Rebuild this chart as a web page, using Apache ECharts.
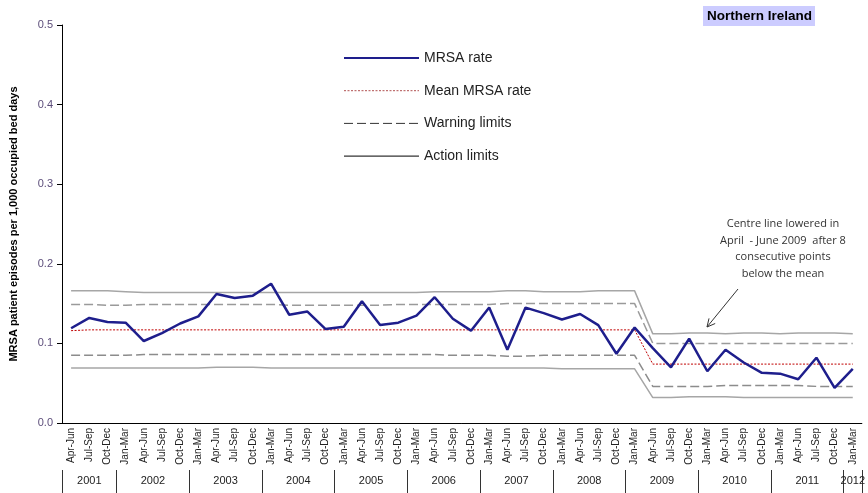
<!doctype html>
<html>
<head>
<meta charset="UTF-8">
<script src="https://cdn.jsdelivr.net/npm/echarts@6/dist/echarts.min.js"></script>
<style>
  html, body { margin: 0; padding: 0; background: #fff; }
  #chart { width: 868px; height: 493px; }
</style>
</head>
<body>
<div id="chart"></div>
<script>
// quarter labels, Apr-Jun 2001 .. Jan-Mar 2012
var quarterLabels = [
  'Apr-Jun','Jul-Sep','Oct-Dec',
  'Jan-Mar','Apr-Jun','Jul-Sep','Oct-Dec',
  'Jan-Mar','Apr-Jun','Jul-Sep','Oct-Dec',
  'Jan-Mar','Apr-Jun','Jul-Sep','Oct-Dec',
  'Jan-Mar','Apr-Jun','Jul-Sep','Oct-Dec',
  'Jan-Mar','Apr-Jun','Jul-Sep','Oct-Dec',
  'Jan-Mar','Apr-Jun','Jul-Sep','Oct-Dec',
  'Jan-Mar','Apr-Jun','Jul-Sep','Oct-Dec',
  'Jan-Mar','Apr-Jun','Jul-Sep','Oct-Dec',
  'Jan-Mar','Apr-Jun','Jul-Sep','Oct-Dec',
  'Jan-Mar','Apr-Jun','Jul-Sep','Oct-Dec',
  'Jan-Mar'
];
var years = ['2001','2002','2003','2004','2005','2006','2007','2008','2009','2010','2011','2012'];
var quartersPerYear = [3,4,4,4,4,4,4,4,4,4,4,1];

var mrsaRate = [0.119,0.132,0.127,0.126,0.103,0.113,0.125,0.134,0.162,0.157,0.160,0.175,
  0.136,0.140,0.118,0.121,0.153,0.123,0.126,0.135,0.158,0.131,0.116,0.145,
  0.092,0.145,0.138,0.130,0.137,0.123,0.087,0.120,0.094,0.070,0.106,0.065,
  0.092,0.076,0.063,0.062,0.055,0.082,0.044,0.068];

var meanRate = [0.116,0.117,0.117,0.117,0.117,0.117,0.117,0.117,0.117,0.117,0.117,0.117,
  0.117,0.117,0.117,0.117,0.117,0.117,0.117,0.117,0.117,0.117,0.117,0.117,
  0.117,0.117,0.117,0.117,0.117,0.117,0.117,0.117,0.074,0.074,0.074,0.074,
  0.074,0.074,0.074,0.074,0.074,0.074,0.074,0.074];

var upperWarning = [0.149,0.149,0.148,0.148,0.149,0.149,0.149,0.149,0.149,0.149,0.149,0.149,
  0.148,0.148,0.148,0.148,0.148,0.148,0.149,0.149,0.149,0.149,0.149,0.149,
  0.150,0.150,0.150,0.150,0.150,0.150,0.150,0.150,0.100,0.100,0.100,0.100,
  0.100,0.100,0.100,0.100,0.100,0.100,0.100,0.100];

var lowerWarning = [0.085,0.085,0.085,0.085,0.086,0.086,0.086,0.086,0.086,0.086,0.086,0.086,
  0.086,0.086,0.086,0.086,0.086,0.086,0.086,0.086,0.086,0.085,0.085,0.085,
  0.084,0.084,0.085,0.085,0.085,0.085,0.085,0.085,0.046,0.046,0.046,0.046,
  0.047,0.047,0.047,0.047,0.047,0.046,0.046,0.046];

var upperAction = [0.166,0.166,0.166,0.165,0.164,0.164,0.164,0.164,0.164,0.164,0.164,0.164,
  0.164,0.164,0.164,0.164,0.164,0.164,0.164,0.164,0.165,0.165,0.165,0.165,
  0.166,0.166,0.165,0.165,0.165,0.166,0.166,0.166,0.112,0.112,0.113,0.113,
  0.112,0.113,0.113,0.112,0.113,0.113,0.113,0.112];

var lowerAction = [0.069,0.069,0.069,0.069,0.069,0.069,0.069,0.069,0.070,0.070,0.070,0.069,
  0.069,0.069,0.069,0.069,0.069,0.069,0.069,0.069,0.069,0.069,0.069,0.069,
  0.069,0.069,0.069,0.068,0.068,0.068,0.068,0.068,0.032,0.032,0.033,0.033,
  0.033,0.032,0.032,0.032,0.032,0.032,0.032,0.032];

var yTicks = [0, 0.1, 0.2, 0.3, 0.4, 0.5];

// year row: half-quarter slots so a year label can sit in the middle of its quarters
var yearSlots = [];
var yearTicks = {0: true};
var q = 0;
for (var i = 0; i <= quarterLabels.length * 2; i++) yearSlots.push('');
years.forEach(function (y, k) {
  var n = quartersPerYear[k];
  yearSlots[2 * q + n] = y;
  q += n;
  yearTicks[2 * q] = true;
});

var font = 'Liberation Sans, Arial, sans-serif';
var grey = '#a6a6a6';
var noDot = { opacity: 0 };

var myChart = echarts.init(document.getElementById('chart'));
var option = {
  animation: false,
  backgroundColor: '#fff',
  title: {
    text: 'Northern Ireland',
    left: 703,
    top: 6,
    padding: [3, 3, 3, 4],
    backgroundColor: '#ccccff',
    textStyle: { fontFamily: font, fontSize: 13.5, fontWeight: 'bold', color: '#000' }
  },
  legend: {
    orient: 'vertical',
    left: 338,
    top: 46,
    itemWidth: 75,
    itemHeight: 14,
    itemGap: 18.7,
    textStyle: { fontFamily: font, fontSize: 14, color: '#222' },
    data: [
      { name: 'MRSA rate', itemStyle: noDot, lineStyle: { color: '#1e1e8c', width: 2 } },
      { name: 'Mean MRSA rate', itemStyle: noDot, lineStyle: { color: '#b05050', width: 1 } },
      { name: 'Warning limits', itemStyle: noDot, lineStyle: { color: '#333', width: 1 } },
      { name: 'Action limits', itemStyle: noDot, lineStyle: { color: '#000', width: 1 } }
    ]
  },
  grid: { left: 62, right: 0, top: 25, bottom: 70 },
  xAxis: [
    {
      type: 'category',
      data: quarterLabels,
      boundaryGap: true,
      axisLine: { lineStyle: { color: '#000', width: 1 } },
      axisTick: { interval: 0, length: 47, lineStyle: { color: '#333' } },
      axisLabel: {
        interval: 0, rotate: 90, margin: 5,
        fontFamily: font, fontSize: 10, color: '#222'
      },
      splitLine: { show: false }
    },
    {
      type: 'category',
      data: yearSlots,
      boundaryGap: false,
      position: 'bottom',
      offset: 47,
      axisLine: { show: false },
      axisTick: {
        show: true,
        interval: function (idx) { return !!yearTicks[idx]; },
        length: 23,
        lineStyle: { color: '#333' }
      },
      axisLabel: {
        interval: function (idx, val) { return val !== ''; },
        margin: 5,
        fontFamily: font, fontSize: 11, color: '#222'
      },
      splitLine: { show: false }
    }
  ],
  yAxis: {
    type: 'value',
    min: yTicks[0],
    max: yTicks[yTicks.length - 1],
    interval: 0.1,
    name: 'MRSA patient episodes per 1,000 occupied bed days',
    nameLocation: 'middle',
    nameGap: 43,
    nameTextStyle: { fontFamily: font, fontSize: 11, fontWeight: 'bold', color: '#000' },
    axisLine: { show: true, lineStyle: { color: '#000' } },
    axisTick: { show: true, length: 5, lineStyle: { color: '#000' } },
    axisLabel: {
      fontFamily: font, fontSize: 11, color: '#5c4d7a', margin: 9,
      formatter: function (v) { return v.toFixed(1); }
    },
    splitLine: { show: false }
  },
  series: [
    {
      name: 'Action limits', type: 'line', data: upperAction, symbol: 'none',
      lineStyle: { color: grey, width: 1.5 }, z: 1
    },
    {
      name: 'Action limits', type: 'line', data: lowerAction, symbol: 'none',
      lineStyle: { color: grey, width: 1.5 }, z: 1
    },
    {
      name: 'Warning limits', type: 'line', data: upperWarning, symbol: 'none',
      lineStyle: { color: '#9a9a9a', width: 1.5, type: [9, 4] }, z: 1
    },
    {
      name: 'Warning limits', type: 'line', data: lowerWarning, symbol: 'none',
      lineStyle: { color: '#8c8c8c', width: 1.5, type: [9, 4] }, z: 1
    },
    {
      name: 'Mean MRSA rate', type: 'line', data: meanRate, symbol: 'none',
      lineStyle: { color: '#c00000', width: 1, type: [2, 1.5] }, z: 2
    },
    {
      name: 'MRSA rate', type: 'line', data: mrsaRate, symbol: 'none',
      lineStyle: { color: '#1e1e8c', width: 2.5 }, z: 3
    }
  ],
  graphic: [
    {
      type: 'text',
      x: 783, y: 216,
      style: {
        text: 'Centre line lowered in\nApril  - June 2009  after 8\nconsecutive points\nbelow the mean',
        align: 'center',
        verticalAlign: 'top',
        lineHeight: 16.5,
        fontFamily: 'Open Sans, Lato, sans-serif',
        fontSize: 11,
        fill: '#333'
      }
    },
    {
      type: 'line',
      shape: { x1: 738, y1: 289, x2: 707, y2: 327 },
      style: { stroke: '#333', lineWidth: 1 }
    },
    {
      type: 'polyline',
      shape: { points: [[715.2, 323.5], [707, 327], [709.0, 318.4]] },
      style: { stroke: '#333', lineWidth: 1, fill: null }
    }
  ]
};
myChart.setOption(option);
</script>
</body>
</html>
